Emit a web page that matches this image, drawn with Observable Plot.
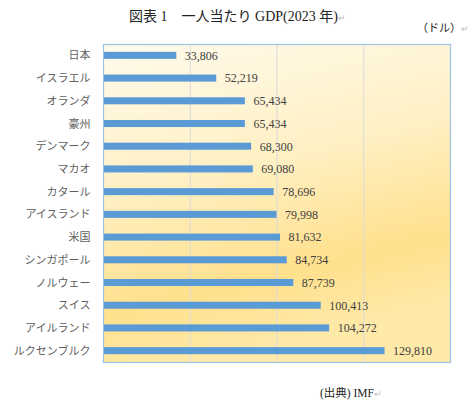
<!DOCTYPE html>
<html>
<head>
<meta charset="utf-8">
<script src="https://cdn.jsdelivr.net/npm/d3@7"></script>
<script src="https://cdn.jsdelivr.net/npm/@observablehq/plot@0.6"></script>
<style>
  body { margin: 0; background: #fff; }
  #wrap { position: relative; width: 475px; height: 413px; }
  #chart { position: absolute; left: 0; top: 0; }
  .t { position: absolute; color: #222; font-family: "Liberation Serif", "Noto Sans CJK JP", serif; white-space: nowrap; }
  #title { left: 0; width: 475px; top: 5px; text-align: center; font-size: 14px; }
  #unit { right: 6px; top: 19px; font-size: 11px; }
  #src { left: 320px; top: 384px; font-size: 11.5px; }
  .mk { color: #bbb; font-size: 9px; }
</style>
</head>
<body>
<div id="wrap">
  <div id="chart"></div>
  <div class="t" id="title">図表 1　一人当たり GDP(2023 年)<span class="mk">↵</span></div>
  <div class="t" id="unit">（ドル）<span class="mk">↵</span></div>
  <div class="t" id="src">(出典) IMF<span class="mk">↵</span></div>
</div>
<script>
// 国名と一人当たりGDP（ドル）
const countries = ["日本", "イスラエル", "オランダ", "豪州", "デンマーク", "マカオ", "カタール",
  "アイスランド", "米国", "シンガポール", "ノルウェー", "スイス", "アイルランド", "ルクセンブルク"];
const gdp = [33806, 52219, 65434, 65434, 68300, 69080, 78696,
  79998, 81632, 84734, 87739, 100413, 104272, 129810];
const gridTicks = [40000, 80000, 120000];

const data = countries.map((c, i) => ({country: c, value: gdp[i]}));

let chart = Plot.plot({
  width: 475,
  height: 413,
  marginLeft: 103,
  marginRight: 25,
  marginTop: 44,
  marginBottom: 51,
  style: {
    fontFamily: "'Noto Sans CJK JP', sans-serif",
    fontSize: "11px",
    color: "#606060",
    background: "transparent"
  },
  x: { domain: [0, 160000], axis: null },
  y: { domain: countries, paddingInner: 0.69, paddingOuter: 0.345, round: false,
       label: null, tickSize: 0, tickPadding: 13 },
  marks: [
    Plot.frame({ fill: "url(#bg)", stroke: "none" }),
    Plot.ruleX(gridTicks, { stroke: "#d9d9d9", strokeWidth: 1 }),
    Plot.barX(data, { y: "country", x: "value", fill: "#5b9bd5" }),
    Plot.text(data, {
      y: "country", x: "value", text: d => d3.format(",")(d.value),
      textAnchor: "start", dx: 8, fill: "#404040",
      fontFamily: "'Liberation Serif', serif", fontSize: 12
    }),
    Plot.frame({ stroke: "#9dc3e6", strokeWidth: 1.2 })
  ]
});

// 背景のグラデーション
const defs = d3.select(chart).insert("defs", ":first-child");
const g = defs.append("linearGradient").attr("id", "bg")
  .attr("x1", "0").attr("y1", "0").attr("x2", "0.25").attr("y2", "1");
g.append("stop").attr("offset", "0%").attr("stop-color", "#fffaeb");
g.append("stop").attr("offset", "45%").attr("stop-color", "#fff0c4");
g.append("stop").attr("offset", "80%").attr("stop-color", "#ffe08c");
g.append("stop").attr("offset", "100%").attr("stop-color", "#ffe9a8");

d3.select('#chart').append(() => chart);
</script>
</body>
</html>
